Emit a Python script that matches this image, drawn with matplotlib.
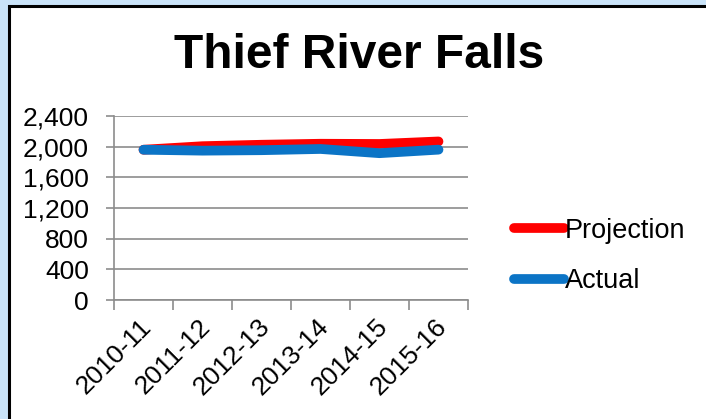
import matplotlib
matplotlib.use("Agg")
import matplotlib.pyplot as plt
from matplotlib.patches import Rectangle
from matplotlib.ticker import FuncFormatter
from matplotlib.transforms import ScaledTranslation

# Data
years = ['2010-11', '2011-12', '2012-13', '2013-14', '2014-15', '2015-16']
projection = [1960, 2006, 2025, 2038, 2035, 2068]
actual = [1960, 1948, 1954, 1970, 1915, 1961]
y_ticks = [0, 400, 800, 1200, 1600, 2000, 2400]

plt.rcParams['font.family'] = ['Liberation Sans', 'DejaVu Sans']

fig = plt.figure(figsize=(7.06, 4.19), dpi=100)
fig.patch.set_facecolor('#c9e3f8')

# white chart area with black frame (continues past right/bottom edge)
frame = Rectangle((9 / 706, -0.05), 1.1, 1 - 6 / 419 + 0.05,
                  transform=fig.transFigure, facecolor='white',
                  edgecolor='black', linewidth=2.2, zorder=-10)
fig.patches.append(frame)

ax = fig.add_axes([114 / 706, 1 - 300 / 419, (468 - 114) / 706, (300 - 116) / 419])
ax.set_facecolor('none')

x = list(range(len(years)))
ax.plot(x, projection, color='#ff0000', lw=7, solid_capstyle='round',
        label='Projection', zorder=3)
ax.plot(x, actual, color='#0b74c6', lw=7, solid_capstyle='round',
        label='Actual', zorder=4)

ax.set_xlim(-0.5, len(years) - 0.5)
ax.set_ylim(0, 2400)
ax.set_yticks(y_ticks)
ax.yaxis.set_major_formatter(FuncFormatter(lambda v, p: f'{int(v):,}'))
ax.grid(axis='y', color='#8c8c8c', lw=1.2)
ax.set_axisbelow(True)

# category boundary ticks on x axis, labels centred on categories
ax.set_xticks([i - 0.5 for i in range(len(years) + 1)])
ax.set_xticklabels([])
ax.set_xticks(x, minor=True)
ax.set_xticklabels(years, minor=True, rotation=45, ha='right',
                   rotation_mode='anchor', fontsize=19)
ax.tick_params(axis='x', which='minor', length=0, pad=10.5)
ax.tick_params(axis='x', which='major', length=7, width=1.2, color='#8c8c8c')
ax.tick_params(axis='y', length=6, width=1.2, color='#8c8c8c', labelsize=19, pad=12)
shift = ScaledTranslation(-4 / 100, 0, fig.dpi_scale_trans)
for lbl in ax.get_xticklabels(minor=True):
    lbl.set_transform(lbl.get_transform() + shift)

for side in ['top', 'right']:
    ax.spines[side].set_visible(False)
for side in ['left', 'bottom']:
    ax.spines[side].set_color('#8c8c8c')
    ax.spines[side].set_linewidth(1.2)

fig.text(0.508, 1 - 56 / 419, 'Thief River Falls', fontsize=34.5, fontweight='bold',
         ha='center', va='center')

fig.legend(loc='center left', bbox_to_anchor=(503 / 706, 1 - 256 / 419),
           frameon=False, fontsize=19.5, handlelength=1.85, handletextpad=0.02,
           labelspacing=0.9, borderaxespad=0)

fig.savefig('out.png', dpi=100)
